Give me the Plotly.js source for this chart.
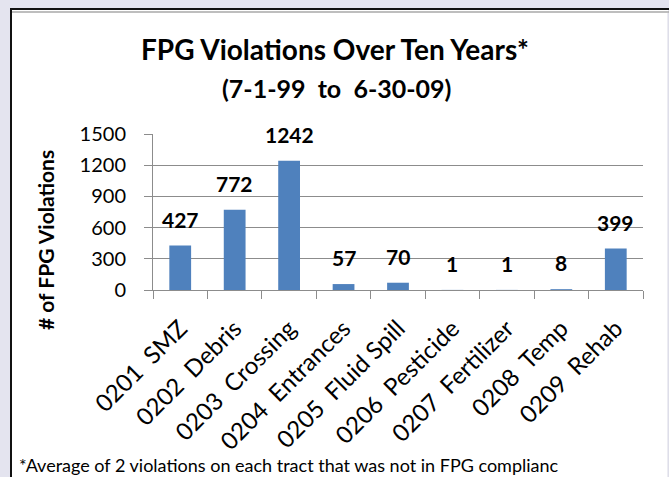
<!DOCTYPE html>
<html>
<head>
<meta charset="utf-8">
<script src="https://cdn.plot.ly/plotly-3.0.1.min.js"></script>
<style>
html,body{margin:0;padding:0;background:#e4e4ef;}
#chart{width:669px;height:477px;}
</style>
</head>
<body>
<div id="chart"></div>
<script>
const categories = ["0201  SMZ","0202  Debris","0203  Crossing","0204  Entrances","0205  Fluid Spill","0206  Pesticide","0207  Fertilizer","0208  Temp","0209  Rehab"];
const violations = [427, 772, 1242, 57, 70, 1, 1, 8, 399];
const yTicks = [0, 300, 600, 900, 1200, 1500];
const titleText = "FPG Violations Over Ten Years*";
const subtitleText = "(7-1-99  to  6-30-09)";
const yTitleText = "# of FPG Violations";
const footnoteText = "*Average of 2 violations on each tract that was not in FPG complianc";

const W = 669, H = 477;
const M = {l:153, r:26, t:134, b:187};
const pw = W - M.l - M.r, ph = H - M.t - M.b;
const px = x => (x - M.l) / pw;
const py = y => (H - M.b - y) / ph;
const keepSpaces = s => s.replace(/  /g, " \u00a0");

const FONT = "Lato, 'Open Sans', sans-serif";

const trace = {
  type: "bar",
  x: categories,
  y: violations,
  marker: {color: "#4f81bd"},
  hoverinfo: "none"
};

const labelAnns = categories.map((c, i) => ({
  x: c, y: violations[i], xref: "x", yref: "y",
  text: "<b>" + violations[i] + "</b>",
  showarrow: false, yanchor: "bottom", yshift: 12,
  font: {family: FONT, size: 21, color: "#000"}
}));

const layout = {
  width: W, height: H,
  margin: M,
  paper_bgcolor: "#e4e4ef",
  plot_bgcolor: "rgba(0,0,0,0)",
  showlegend: false,
  bargap: 0.6,
  title: {
    text: "<b>" + titleText + "</b>",
    x: 335 / W, xref: "container", xanchor: "center",
    y: 1 - 50 / H, yref: "container", yanchor: "middle",
    font: {family: FONT, size: 28, color: "#000"}
  },
  xaxis: {
    type: "category",
    tickvals: categories,
    ticktext: categories.map(keepSpaces),
    tickangle: -45,
    ticks: "outside", tickson: "boundaries", ticklen: 8, tickcolor: "#8c8c8c",
    ticklabelstandoff: 14, ticklabelshift: 0,
    showline: true, linecolor: "#8c8c8c", linewidth: 1,
    showgrid: false,
    tickfont: {family: FONT, size: 24, color: "#000"}
  },
  yaxis: {
    range: [0, 1500],
    tickvals: yTicks,
    ticktext: yTicks.map(String),
    ticks: "outside", ticklen: 8, tickcolor: "#8c8c8c",
    ticklabelstandoff: 14,
    showline: true, linecolor: "#8c8c8c", linewidth: 1,
    showgrid: true, gridcolor: "#8c8c8c", gridwidth: 1,
    zeroline: false,
    tickfont: {family: FONT, size: 20, color: "#000"}
  },
  shapes: [
    {type:"rect", xref:"paper", yref:"paper", layer:"below",
     x0: px(10), x1: px(668), y0: py(10), y1: py(490),
     fillcolor:"#ffffff", line:{width:0}},
    {type:"line", xref:"paper", yref:"paper", layer:"below",
     x0: px(11), x1: px(11), y0: py(9), y1: py(490),
     line:{color:"#111", width:2}},
    {type:"line", xref:"paper", yref:"paper", layer:"below",
     x0: px(10), x1: px(669), y0: py(9), y1: py(9),
     line:{color:"#111", width:2}},
    {type:"line", xref:"paper", yref:"paper", layer:"below",
     x0: px(12), x1: px(669), y0: py(12), y1: py(12),
     line:{color:"#a8a8a8", width:1.5}},
    {type:"line", xref:"paper", yref:"paper", layer:"below",
     x0: px(668), x1: px(668), y0: py(13), y1: py(490),
     line:{color:"#d8d8e4", width:1}}
  ],
  annotations: labelAnns.concat([
    {xref:"paper", yref:"paper", x: px(336), y: py(88), xanchor:"center", yanchor:"middle",
     text:"<b>" + keepSpaces(subtitleText) + "</b>", showarrow:false,
     font:{family: FONT, size: 25, color:"#000"}},
    {xref:"paper", yref:"paper", x: px(45), y: py(240), xanchor:"center", yanchor:"middle",
     text:"<b>" + yTitleText + "</b>", textangle:-90, showarrow:false,
     font:{family: FONT, size: 21, color:"#000"}},
    {xref:"paper", yref:"paper", x: px(17), y: py(465), xanchor:"left", yanchor:"middle",
     text: footnoteText, showarrow:false,
     font:{family: FONT, size: 18, color:"#000"}}
  ])
};

Plotly.newPlot("chart", [trace], layout, {displayModeBar: false, staticPlot: true});
</script>
</body>
</html>
